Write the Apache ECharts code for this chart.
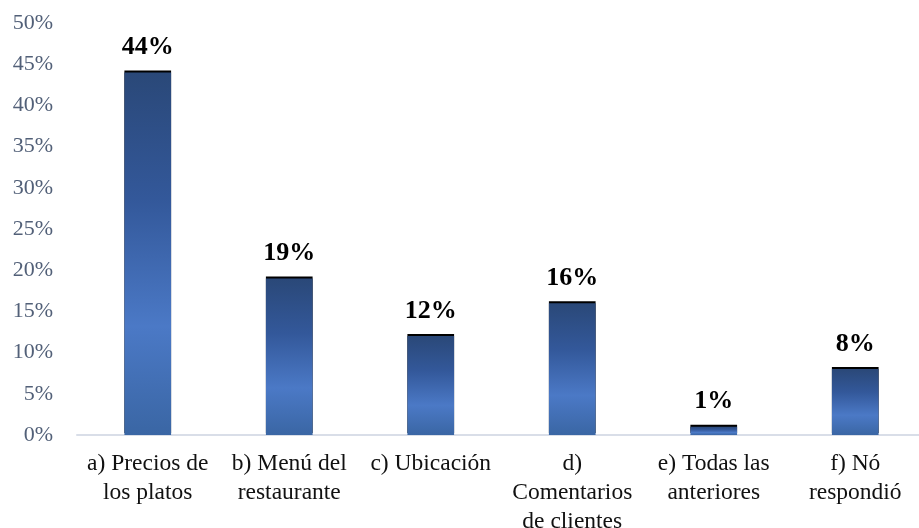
<!DOCTYPE html>
<html>
<head>
<meta charset="utf-8">
<script src="https://cdn.jsdelivr.net/npm/echarts@6/dist/echarts.min.js"></script>
<style>
  html, body { margin: 0; padding: 0; background: #ffffff; }
  #chart { width: 919px; height: 528px; }
</style>
</head>
<body>
<div id="chart"></div>
<script>
// Survey responses (percent of respondents)
const categories = [
  'a) Precios de\nlos platos',
  'b) Menú del\nrestaurante',
  'c) Ubicación',
  'd)\nComentarios\nde clientes',
  'e) Todas las\nanteriores',
  'f) Nó\nrespondió'
];
const values = [44, 19, 12, 16, 1, 8];
const yTicks = { min: 0, max: 50, interval: 5 };

const serif = '"Liberation Serif", "Times New Roman", serif';

const barFill = new echarts.graphic.LinearGradient(0, 0, 0, 1, [
  { offset: 0, color: '#2a4878' },
  { offset: 0.35, color: '#33589a' },
  { offset: 0.7, color: '#4b79c6' },
  { offset: 1, color: '#3a66a4' }
]);

const chart = echarts.init(document.getElementById('chart'), null, { renderer: 'canvas' });
chart.setOption({
  animation: false,
  backgroundColor: '#ffffff',
  grid: { left: 77, right: -7, top: 23, bottom: 93, containLabel: false, outerBoundsMode: 'none' },
  xAxis: {
    type: 'category',
    data: categories,
    axisLine: { show: true, lineStyle: { color: '#d9dee8', width: 2 } },
    axisTick: { show: false },
    axisLabel: {
      interval: 0,
      margin: 14,
      color: '#111111',
      fontFamily: serif,
      fontSize: 23.5,
      lineHeight: 29,
      align: 'center'
    }
  },
  yAxis: {
    type: 'value',
    min: yTicks.min,
    max: yTicks.max,
    interval: yTicks.interval,
    axisLine: { show: false },
    axisTick: { show: false },
    splitLine: { show: false },
    axisLabel: {
      margin: 24,
      color: '#526078',
      fontFamily: serif,
      fontSize: 22,
      formatter: v => v + '%'
    }
  },
  series: [{
    type: 'bar',
    data: values,
    barWidth: '33%',
    itemStyle: {
      color: barFill,
      shadowColor: '#000000',
      shadowOffsetY: -2,
      shadowOffsetX: 0,
      shadowBlur: 0
    },
    label: {
      show: true,
      position: 'top',
      distance: 12,
      color: '#000000',
      fontFamily: serif,
      fontWeight: 'bold',
      fontSize: 26,
      formatter: p => p.value + '%'
    }
  }]
});
</script>
</body>
</html>
